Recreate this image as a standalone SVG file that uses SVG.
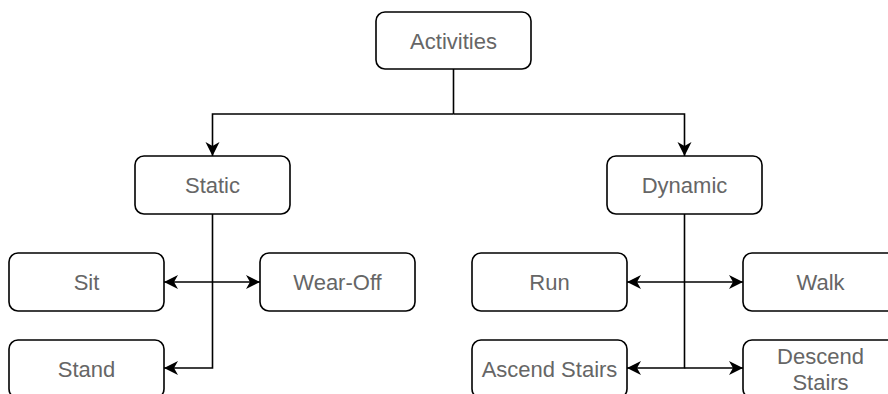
<svg xmlns="http://www.w3.org/2000/svg" width="888" height="394" viewBox="0 0 888 394">
<style>
.box{fill:#fff;stroke:#000;stroke-width:1.6}
.lbl{font-family:"Liberation Sans",Arial,sans-serif;font-size:22px;fill:#666;text-anchor:middle}
.edge{fill:none;stroke:#000;stroke-width:1.6}
.arr{marker-end:url(#ah)}
</style>
<defs>
<marker id="ah" markerUnits="userSpaceOnUse" markerWidth="16" markerHeight="16" viewBox="-15 -8 16 16" refX="0" refY="0" orient="auto">
<path d="M0,0 L-14,-7 L-10,0 L-14,7 Z" fill="#000"/>
</marker>
</defs>
<rect width="888" height="394" fill="#fff"/>
<g id="connectors">
<path class="edge" d="M453.5,69 V114"/>
<path class="edge arr" d="M453.5,114 H212.5 V156"/>
<path class="edge arr" d="M453.5,114 H684.5 V156"/>
<path class="edge arr" d="M212.5,214 V368 H164"/>
<path class="edge arr" d="M212.5,282 H164"/>
<path class="edge arr" d="M212.5,282 H260"/>
<path class="edge arr" d="M684.5,214 V368 H627"/>
<path class="edge arr" d="M684.5,368 H743"/>
<path class="edge arr" d="M684.5,282 H627"/>
<path class="edge arr" d="M684.5,282 H743"/>
</g>
<g id="activities"><rect class="box" x="376" y="12" width="155" height="57" rx="9"/><text class="lbl" x="453.5" y="49">Activities</text></g>
<g id="static"><rect class="box" x="135" y="156" width="155" height="58" rx="9"/><text class="lbl" x="212.5" y="193">Static</text></g>
<g id="dynamic"><rect class="box" x="607" y="156" width="155" height="58" rx="9"/><text class="lbl" x="684.5" y="193">Dynamic</text></g>
<g id="sit"><rect class="box" x="9" y="253" width="155" height="58" rx="9"/><text class="lbl" x="86.5" y="290">Sit</text></g>
<g id="wearoff"><rect class="box" x="260" y="253" width="155" height="58" rx="9"/><text class="lbl" x="337.5" y="290">Wear-Off</text></g>
<g id="stand"><rect class="box" x="9" y="340" width="155" height="58" rx="9"/><text class="lbl" x="86.5" y="377">Stand</text></g>
<g id="run"><rect class="box" x="472" y="253" width="155" height="58" rx="9"/><text class="lbl" x="549.5" y="290">Run</text></g>
<g id="walk"><rect class="box" x="743" y="253" width="155" height="58" rx="9"/><text class="lbl" x="820.5" y="290">Walk</text></g>
<g id="ascend"><rect class="box" x="472" y="340" width="155" height="58" rx="9"/><text class="lbl" x="549.5" y="377">Ascend Stairs</text></g>
<g id="descend"><rect class="box" x="743" y="340" width="155" height="58" rx="9"/><text class="lbl" x="820.5" y="364">Descend</text><text class="lbl" x="820.5" y="390">Stairs</text></g>
</svg>
